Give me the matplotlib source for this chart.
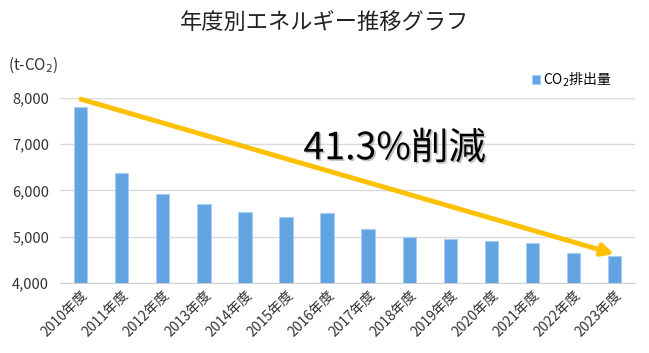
import matplotlib.pyplot as plt
import matplotlib.patheffects as pe
from matplotlib.ticker import FuncFormatter

plt.rcParams['font.family'] = ['Noto Sans CJK JP', 'DejaVu Sans']

years = ['2010年度', '2011年度', '2012年度', '2013年度', '2014年度', '2015年度', '2016年度',
         '2017年度', '2018年度', '2019年度', '2020年度', '2021年度', '2022年度', '2023年度']
co2 = [7800, 6370, 5925, 5710, 5530, 5430, 5510, 5170, 5000, 4955, 4915, 4870, 4655, 4580]
arrow_from = (0, 7970)
arrow_to = (13, 4630)
reduction_label = '41.3%削減'

fig = plt.figure(figsize=(6.49, 3.53), dpi=100)
ax = fig.add_axes([0.093, 0.198, 0.885, 0.525])

x = list(range(len(years)))
ax.bar(x, co2, width=0.32, color='#62A4E2', edgecolor='#A9CDEE', linewidth=0.8,
       label='CO$_2$排出量', zorder=3)

ax.set_xlim(-0.5, len(years) - 0.5)
ax.set_ylim(4000, 8000)
ax.set_yticks([4000, 5000, 6000, 7000, 8000])
ax.yaxis.set_major_formatter(FuncFormatter(lambda v, p: f'{int(v):,}'))
ax.grid(axis='y', color='#D9D9D9', linewidth=1, zorder=0)
for s in ['top', 'right', 'left']:
    ax.spines[s].set_visible(False)
ax.spines['bottom'].set_color('#D0D0D0')
ax.tick_params(axis='both', length=0, labelsize=10.5, colors='#333333')
ax.tick_params(axis='y', pad=8)
ax.set_xticks(x)
ax.set_xticklabels(years, rotation=45, ha='right', rotation_mode='anchor', fontsize=10)

# trend arrow
ax.annotate('', xy=arrow_to, xytext=arrow_from,
            arrowprops=dict(arrowstyle='-|>,head_length=0.7,head_width=0.35',
                            color='#FFC000', lw=3.5, shrinkA=0, shrinkB=0),
            zorder=4)
ax.text(7.65, 6900, reduction_label, fontsize=27, color='black', ha='center', va='center', zorder=5,
        path_effects=[pe.withSimplePatchShadow(offset=(1.2, -1.2), shadow_rgbFace='#888888', alpha=0.5)])

fig.text(0.5, 0.935, '年度別エネルギー推移グラフ', ha='center', va='center', fontsize=16, color='#222222')
fig.text(0.012, 0.815, '(t-CO$_2$)', ha='left', va='center', fontsize=11, color='#333333')

leg = ax.legend(loc='lower right', bbox_to_anchor=(0.97, 1.02), frameon=False, fontsize=10,
                handlelength=0.6, handleheight=0.6, handletextpad=0.2, borderaxespad=0)

fig.savefig('out.png', dpi=100)
